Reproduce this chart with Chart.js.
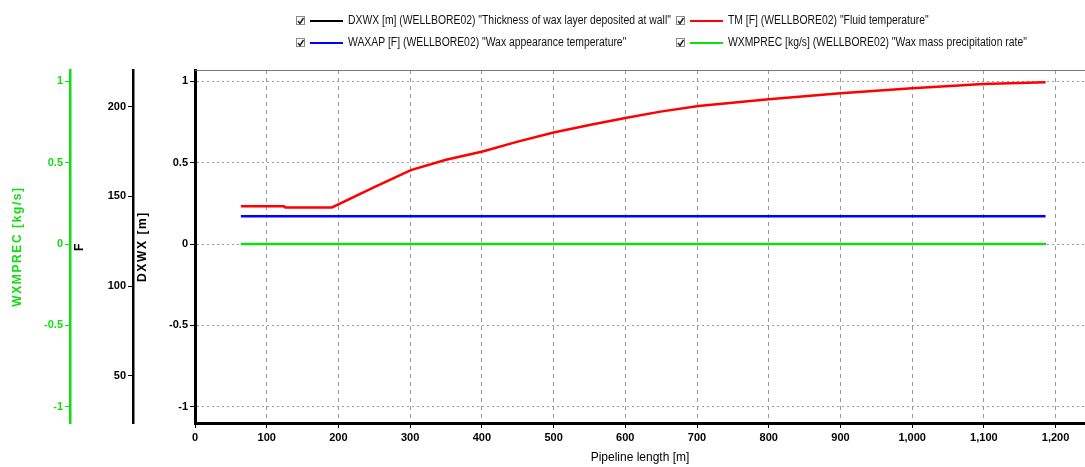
<!DOCTYPE html>
<html>
<head>
<meta charset="utf-8">
<script src="https://cdn.jsdelivr.net/npm/chart.js"></script>
<style>
  body { margin: 0; background: #fff; }
  #wrap { width: 1085px; height: 467px; position: relative; }
</style>
</head>
<body>
<div id="wrap"><canvas id="myChart"></canvas></div>
<script>
// pipeline positions [m]
const lengths = [64, 124, 126, 191, 250, 301, 350, 401, 450, 500, 550, 600, 649, 702, 800, 900, 1000, 1099, 1186];
// TM [F]
const fluidTemp = [144.5, 144.5, 143.8, 143.8, 155.2, 164.6, 170.4, 175.0, 180.5, 185.6, 189.8, 193.6, 197.2, 200.4, 204.1, 207.4, 210.2, 212.6, 213.6];
// WAXAP [F]
const waxAppTemp = [138.9, 138.9, 138.9, 138.9, 138.9, 138.9, 138.9, 138.9, 138.9, 138.9, 138.9, 138.9, 138.9, 138.9, 138.9, 138.9, 138.9, 138.9, 138.9];
// DXWX [m]
const waxThickness = [0, 0, 0, 0, 0, 0, 0, 0, 0, 0, 0, 0, 0, 0, 0, 0, 0, 0, 0];
// WXMPREC [kg/s]
const waxPrecip = [0, 0, 0, 0, 0, 0, 0, 0, 0, 0, 0, 0, 0, 0, 0, 0, 0, 0, 0];

const seriesNames = [
  'DXWX [m] (WELLBORE02) "Thickness of wax layer deposited at wall"',
  'TM [F] (WELLBORE02) "Fluid temperature"',
  'WAXAP [F] (WELLBORE02) "Wax appearance temperature"',
  'WXMPREC [kg/s] (WELLBORE02) "Wax mass precipitation rate"'
];

const GREEN = '#11dd11';
const FONT = '"Liberation Sans Narrow", "Liberation Sans", Arial, sans-serif';

function pts(vals) {
  return vals.map((v, i) => ({ x: lengths[i], y: v }));
}

// the y axis titles are letter spaced in the original
const spacedTitles = {
  id: 'spacedTitles',
  beforeDraw(chart) {
    ['yW', 'yF', 'y'].forEach(id => {
      const s = chart.scales[id];
      if (!s || s._spaced) return;
      const orig = s.drawTitle.bind(s);
      s.drawTitle = function () {
        const c = this.ctx;
        c.letterSpacing = '1.6px';
        orig();
        c.letterSpacing = '0px';
      };
      s._spaced = true;
    });
  }
};

// legend in two aligned columns with check boxes
const legendBoxes = {
  id: 'legendBoxes',
  afterDraw(chart) {
    const ctx = chart.ctx;
    const cols = [296, 676];
    const rows = [21, 43];
    ctx.save();
    ctx.font = '12px ' + FONT;
    ctx.textBaseline = 'middle';
    chart.data.datasets.forEach((ds, i) => {
      const x = cols[i % 2];
      const y = rows[Math.floor(i / 2)];
      ctx.fillStyle = '#fff';
      ctx.strokeStyle = '#8a8a8a';
      ctx.lineWidth = 1;
      ctx.fillRect(x + 0.5, y - 4.5, 8, 8);
      ctx.strokeRect(x + 0.5, y - 4.5, 8, 8);
      ctx.strokeStyle = '#222';
      ctx.lineWidth = 1.5;
      ctx.beginPath();
      ctx.moveTo(x + 2, y);
      ctx.lineTo(x + 4, y + 2.5);
      ctx.lineTo(x + 7.5, y - 3);
      ctx.stroke();
      ctx.strokeStyle = ds.borderColor;
      ctx.lineWidth = 2;
      ctx.beginPath();
      ctx.moveTo(x + 14, y);
      ctx.lineTo(x + 47, y);
      ctx.stroke();
      // condensed text, the original uses a narrow face
      ctx.save();
      ctx.translate(x + 52, y);
      ctx.scale(0.865, 1);
      ctx.fillStyle = '#111';
      ctx.fillText(ds.label, 0, 0);
      ctx.restore();
    });
    // top frame line
    const a = chart.chartArea;
    ctx.strokeStyle = '#777';
    ctx.lineWidth = 1;
    ctx.beginPath();
    ctx.moveTo(a.left, a.top + 0.5);
    ctx.lineTo(a.right, a.top + 0.5);
    ctx.stroke();
    ctx.restore();
  }
};

function fitWidth(w) {
  return function (scale) { scale.width = w; };
}
const plain = v => String(v);
const tickFont = { family: FONT, size: 11, weight: 'bold' };
const titleFont = { family: FONT, size: 12, weight: 'bold' };

const ctx = document.getElementById('myChart').getContext('2d');
const myChart = new Chart(ctx, {
  type: 'line',
  data: {
    datasets: [
      { label: seriesNames[0], data: pts(waxThickness), yAxisID: 'y', borderColor: '#000000', borderWidth: 2, order: 3 },
      { label: seriesNames[1], data: pts(fluidTemp), yAxisID: 'yF', borderColor: '#ff0000', borderWidth: 2.5, order: 0 },
      { label: seriesNames[2], data: pts(waxAppTemp), yAxisID: 'yF', borderColor: '#0000ff', borderWidth: 2.5, order: 1 },
      { label: seriesNames[3], data: pts(waxPrecip), yAxisID: 'yW', borderColor: GREEN, borderWidth: 2.5, order: 2 }
    ]
  },
  options: {
    responsive: true,
    maintainAspectRatio: false,
    animation: false,
    layout: { padding: { top: 70, left: 0, right: 0, bottom: 0 } },
    elements: {
      point: { radius: 0 },
      line: { fill: false, tension: 0 }
    },
    plugins: {
      legend: { display: false },
      tooltip: { enabled: false }
    },
    scales: {
      x: {
        type: 'linear',
        min: 0,
        max: 1241,
        afterFit(scale) { scale.height = 44; },
        ticks: { stepSize: 100, includeBounds: false, color: '#000', padding: 3, maxRotation: 0, font: tickFont },
        grid: { color: '#9a9a9a', tickColor: '#000', tickLength: 5, lineWidth: 1 },
        border: { color: '#000', width: 3, dash: [4, 4] },
        title: { display: true, text: 'Pipeline length [m]', color: '#000', padding: { top: 0, bottom: 2 }, font: { family: FONT, size: 12 } }
      },
      yW: {
        position: 'left',
        weight: 3,
        min: -1.1,
        max: 1.07,
        afterFit: fitWidth(70),
        ticks: { stepSize: 0.5, includeBounds: false, color: GREEN, padding: 2, font: tickFont, callback: plain },
        grid: { drawOnChartArea: false, color: GREEN, tickColor: GREEN, tickLength: 5 },
        border: { color: GREEN, width: 2.5 },
        title: { display: true, text: 'WXMPREC [kg/s]', color: GREEN, padding: { top: 10, bottom: 0 }, font: titleFont }
      },
      yF: {
        position: 'left',
        weight: 2,
        min: 23.7,
        max: 220.4,
        afterFit: fitWidth(63),
        ticks: { stepSize: 50, includeBounds: false, color: '#000', padding: 2, font: tickFont, callback: plain },
        grid: { drawOnChartArea: false, color: '#000', tickColor: '#000', tickLength: 5 },
        border: { color: '#000', width: 2.5 },
        title: { display: true, text: 'F', color: '#000', padding: { top: 2, bottom: 0 }, font: titleFont }
      },
      y: {
        position: 'left',
        weight: 1,
        min: -1.1,
        max: 1.07,
        afterFit: fitWidth(62),
        ticks: { stepSize: 0.5, includeBounds: false, color: '#000', padding: 2, font: tickFont, callback: plain },
        grid: { color: '#9a9a9a', tickColor: '#000', tickLength: 5, lineWidth: 1 },
        border: { color: '#000', width: 3, dash: [2, 3] },
        title: { display: true, text: 'DXWX [m]', color: '#000', padding: { top: 2, bottom: 0 }, font: titleFont }
      }
    }
  },
  plugins: [spacedTitles, legendBoxes]
});
</script>
</body>
</html>
